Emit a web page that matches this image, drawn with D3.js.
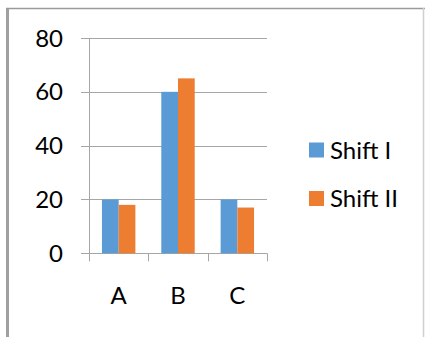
<!DOCTYPE html>
<html>
<head>
<meta charset="utf-8">
<script src="https://cdn.jsdelivr.net/npm/d3@7"></script>
<style>
  html, body { margin: 0; padding: 0; background: #fff; }
  svg { display: block; }
  text { font-family: Lato, "Open Sans", sans-serif; fill: #000; }
</style>
</head>
<body>
<svg id="chart" width="425" height="337"></svg>
<script>
// Production per machine, two shifts
const categories = ["A", "B", "C"];
const seriesNames = ["Shift I", "Shift II"];
const shift1 = [20, 60, 20];
const shift2 = [18, 65, 17];
const yTicks = [0, 20, 40, 60, 80];
const colors = ["#5B9BD5", "#ED7D31"];

const svg = d3.select("#chart");

// frame around the chart area
svg.append("line").attr("x1", 7.5).attr("x2", 7.5).attr("y1", 8).attr("y2", 337)
  .attr("stroke", "#a0a0a0").attr("stroke-width", 3);
svg.append("line").attr("x1", 6).attr("x2", 425).attr("y1", 8.5).attr("y2", 8.5)
  .attr("stroke", "#9a9a9a").attr("stroke-width", 1.5);
svg.append("line").attr("x1", 423.5).attr("x2", 423.5).attr("y1", 8).attr("y2", 337)
  .attr("stroke", "#d0d0d0").attr("stroke-width", 1.5);

const plot = { left: 89, right: 267, top: 38, bottom: 253.3 };
const fontSize = 24;

const x = d3.scaleBand().domain(categories).range([plot.left, plot.right]).paddingInner(0).paddingOuter(0);
const inner = d3.scaleBand().domain(seriesNames).range([0, x.bandwidth()]).paddingInner(0).paddingOuter(0.775);
const y = d3.scaleLinear().domain([0, 80]).range([plot.bottom, plot.top]);

// horizontal gridlines
svg.append("g").selectAll("line").data(yTicks).join("line")
  .attr("x1", plot.left - 8).attr("x2", plot.right)
  .attr("y1", d => Math.round(y(d)) + 0.5).attr("y2", d => Math.round(y(d)) + 0.5)
  .attr("stroke", "#a6a6a6").attr("stroke-width", 1);

// y labels
svg.append("g").selectAll("text").data(yTicks).join("text")
  .attr("x", 63).attr("y", d => y(d)).attr("dy", "0.36em")
  .attr("text-anchor", "end").attr("font-size", fontSize).text(d => d);

// bars
const series = [shift1, shift2];
const g = svg.append("g");
series.forEach((vals, si) => {
  g.selectAll(null).data(vals).join("rect")
    .attr("x", (d, i) => x(categories[i]) + inner(seriesNames[si]))
    .attr("width", inner.bandwidth())
    .attr("y", d => y(d))
    .attr("height", d => y(0) - y(d))
    .attr("fill", colors[si]);
});

// y axis line
svg.append("line").attr("x1", plot.left + 0.5).attr("x2", plot.left + 0.5)
  .attr("y1", plot.top).attr("y2", plot.bottom + 8)
  .attr("stroke", "#a6a6a6");

// category tick marks at band edges
const edges = categories.map(c => x(c)).concat([plot.right]);
svg.append("g").selectAll("line").data(edges.slice(1)).join("line")
  .attr("x1", d => Math.round(d) + 0.5).attr("x2", d => Math.round(d) + 0.5)
  .attr("y1", plot.bottom).attr("y2", plot.bottom + 8)
  .attr("stroke", "#a6a6a6");

// category labels
svg.append("g").selectAll("text").data(categories).join("text")
  .attr("x", d => x(d) + x.bandwidth() / 2).attr("y", 304)
  .attr("text-anchor", "middle").attr("font-size", fontSize).text(d => d);

// legend
const legend = svg.append("g");
seriesNames.forEach((name, i) => {
  const cy = 150 + i * 48.5;
  legend.append("rect").attr("x", 309).attr("y", cy - 7.5).attr("width", 15).attr("height", 15)
    .attr("fill", colors[i]);
  legend.append("text").attr("x", 330).attr("y", cy).attr("dy", "0.36em")
    .attr("font-size", fontSize).text(name);
});
</script>
</body>
</html>
